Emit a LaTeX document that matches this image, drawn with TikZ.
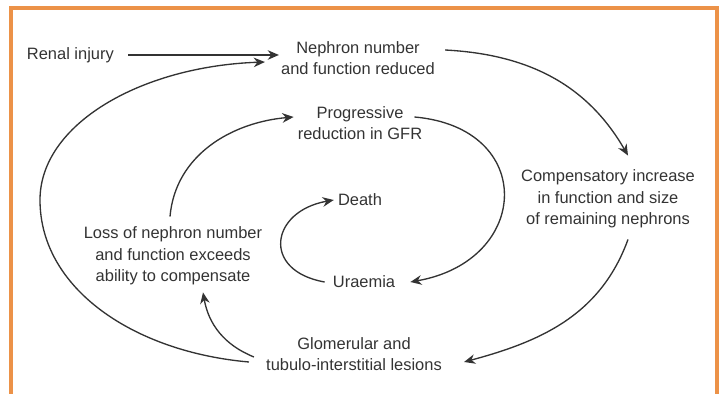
\documentclass[tikz,border=0pt]{standalone}
\usepackage{fontspec}
\setmainfont{Liberation Sans}
\usepackage{xcolor}
\usepackage{tikz}
\usetikzlibrary{arrows.meta, positioning, calc}
\definecolor{frameorange}{RGB}{236,146,72}
\tikzset{
  lbl/.style={align=center, inner sep=0pt, text=black!80,
              font=\fontsize{11.7}{15.3}\selectfont},
  flow/.style={-{Stealth[length=2.8mm, width=2.4mm]}, line width=0.95pt, draw=black!80}
}

\begin{document}
\begin{tikzpicture}
        \useasboundingbox (0,0) rectangle (18.075,9.85);
        \draw[frameorange, line width=2.2pt] (0.275,-0.3) -- (0.275,9.65) -- (17.925,9.65) -- (17.925,-0.3);
        \node[lbl] (injury) at (1.76,8.475) {Renal injury};
        \node[lbl] (reduced) at (8.95,8.4) {Nephron number\\and function reduced};
        \node[lbl] (compens) at (15.2,4.875) {Compensatory increase\\in function and size\\of remaining nephrons};
        \node[lbl] (lesions) at (8.85,1.0) {Glomerular and\\tubulo-interstitial lesions};
        \node[lbl] (loss) at (4.325,3.45) {Loss of nephron number\\and function exceeds\\ability to compensate};
        \node[lbl] (gfr) at (9.0,6.775) {Progressive\\reduction in GFR};
        \node[lbl] (death) at (9.0,4.85) {Death};
        \node[lbl] (uraemia) at (9.1,2.8) {Uraemia};
        \coordinate (loopw) at (1.0,4.85);
        \draw[flow, shorten >=0.05cm] ([xshift=0.35cm]injury.east) -- (injury.east -| reduced.west);
        \draw[flow] ([shift={(0.25,0.2)}]reduced.east) to[out=-3, in=120] ([shift={(0.5,0.35)}]compens.north);
        \draw[flow] ([shift={(0.5,-0.275)}]compens.south) to[out=-110, in=15] ([shift={(0.55,-0.2)}]lesions.east);
        \draw[flow] ([shift={(-0.3,-0.075)}]lesions.west) to[out=158, in=-80] ([shift={(0.75,-0.175)}]loss.south);
        \draw[flow] ([shift={(-0.425,-0.2)}]lesions.west)
          to[out=175, in=-90, out looseness=1.12, in looseness=0.86] (loopw)
          to[out=90, in=182, out looseness=0.74, in looseness=1.2] ([shift={(-0.4,-0.1)}]reduced.west);
        \draw[flow] ([shift={(-0.075,0.25)}]loss.north) to[out=85, in=185] ([shift={(-0.1,0.15)}]gfr.west);
        \draw[flow] ([shift={(-0.2,0.15)}]gfr.east) to[out=-5, in=10, looseness=1.9] ([xshift=0.375cm]uraemia.east);
        \draw[flow] ([xshift=-0.2cm]uraemia.west) to[out=170, in=190, looseness=2] ([xshift=-0.1cm]death.west);
      \end{tikzpicture}
\end{document}
